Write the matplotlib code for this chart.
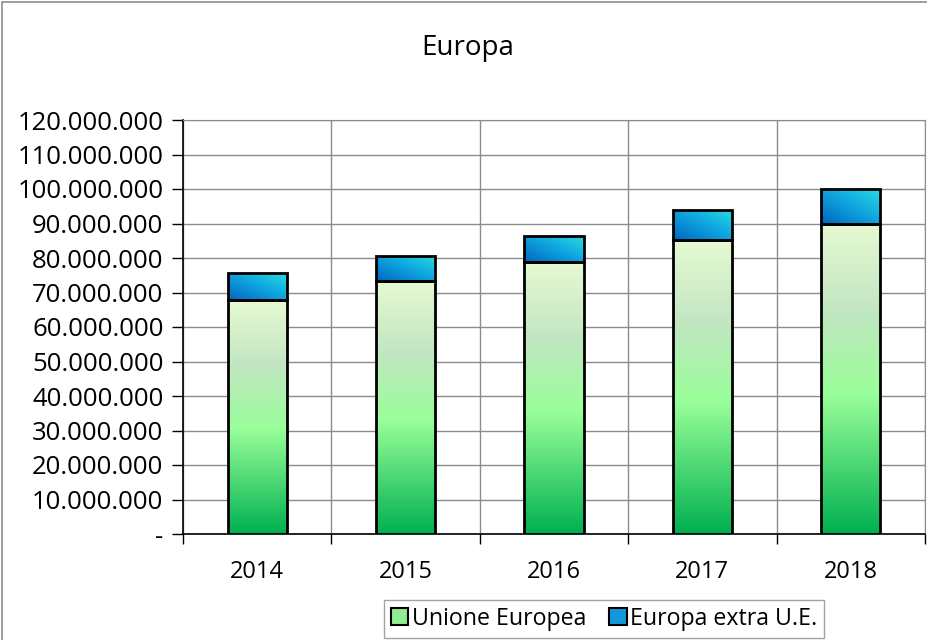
import matplotlib
matplotlib.use("Agg")
import matplotlib.pyplot as plt
import numpy as np
from matplotlib.colors import LinearSegmentedColormap
from matplotlib.patches import Patch, Rectangle
from matplotlib.ticker import FuncFormatter, FixedLocator

plt.rcParams['font.family'] = ['Open Sans', 'DejaVu Sans']

# data
years = ['2014', '2015', '2016', '2017', '2018']
unione_europea = [67800000, 73300000, 78800000, 85200000, 89900000]
extra_ue = [7800000, 7300000, 7600000, 8700000, 10100000]

green_cmap = LinearSegmentedColormap.from_list(
    'eu', [(0.0, '#00B050'), (0.45, '#99FF99'), (0.72, '#C2E6C2'), (1.0, '#E6FAD2')])
blue_cmap = LinearSegmentedColormap.from_list(
    'extra', [(0.0, '#0066C0'), (0.55, '#10A8E0'), (1.0, '#28DCE0')])

fig = plt.figure(figsize=(9.28, 6.4), dpi=100)
ax = fig.add_axes([183 / 928, 1 - 534 / 640, (925 - 183) / 928, (534 - 120) / 640])

x = np.arange(len(years))
width = 0.4

# gradient images for the bars
vert = np.linspace(0, 1, 256).reshape(-1, 1)
uu, vv = np.meshgrid(np.linspace(0, 1, 64), np.linspace(0, 1, 64))
diag = (uu + vv) / 2

bars_eu = ax.bar(x, unione_europea, width, facecolor='none', edgecolor='black', linewidth=2, zorder=4)
bars_ex = ax.bar(x, extra_ue, width, bottom=unione_europea, facecolor='none', edgecolor='black',
                 linewidth=2, zorder=4)

for rect in bars_eu:
    x0, y0 = rect.get_x(), rect.get_y()
    im = ax.imshow(vert, extent=[x0, x0 + rect.get_width(), y0, y0 + rect.get_height()],
                   origin='lower', aspect='auto', cmap=green_cmap, zorder=3)
    im.set_clip_path(rect)
for rect in bars_ex:
    x0, y0 = rect.get_x(), rect.get_y()
    im = ax.imshow(diag, extent=[x0, x0 + rect.get_width(), y0, y0 + rect.get_height()],
                   origin='lower', aspect='auto', cmap=blue_cmap, zorder=3)
    im.set_clip_path(rect)

ax.set_xlim(-0.5, len(years) - 0.5)
ax.set_ylim(0, 120000000)
ax.set_yticks(np.arange(0, 120000001, 10000000))
ax.yaxis.set_major_formatter(FuncFormatter(lambda v, p: '-' if v == 0 else f'{int(v):,}'.replace(',', '.')))

ax.set_xticks(x)
ax.set_xticklabels(years)
ax.xaxis.set_minor_locator(FixedLocator(np.arange(-0.5, len(years), 1.0)))
ax.tick_params(axis='x', which='major', length=0, pad=19, labelsize=17)
ax.tick_params(axis='x', which='minor', length=7, width=1, direction='out')
ax.tick_params(axis='y', length=8, width=1, direction='out', labelsize=18.5, pad=6)

ax.grid(axis='y', color='#8c8c8c', linewidth=1, zorder=0)
ax.grid(axis='x', which='minor', color='#8c8c8c', linewidth=1, zorder=0)
ax.set_axisbelow(True)
for s in ['top', 'right']:
    ax.spines[s].set_color('#8c8c8c')
for s in ['left', 'bottom']:
    ax.spines[s].set_color('black')
    ax.spines[s].set_linewidth(1.2)

fig.text(468 / 928, 1 - 48 / 640, 'Europa', ha='center', va='center', fontsize=20)

handles = [Patch(facecolor='#90EE90', edgecolor='black', linewidth=1.5, label='Unione Europea'),
           Patch(facecolor='#1496DC', edgecolor='black', linewidth=1.5, label='Europa extra U.E.')]
leg = fig.legend(handles=handles, loc='center', bbox_to_anchor=(604 / 928, 1 - 619 / 640), ncol=2,
                 fontsize=16.7, frameon=True, fancybox=False, edgecolor='#8c8c8c',
                 handlelength=0.75, handleheight=0.75, handletextpad=0.15, columnspacing=1.0,
                 borderpad=0.3)
leg.get_frame().set_linewidth(1)

fig.patches.append(Rectangle((2 / 928, -0.01), 0.999, 1 - 2 / 640 + 0.01, transform=fig.transFigure,
                             fill=False, edgecolor='#8c8c8c', linewidth=1.2))

fig.savefig('out.png', dpi=100)
